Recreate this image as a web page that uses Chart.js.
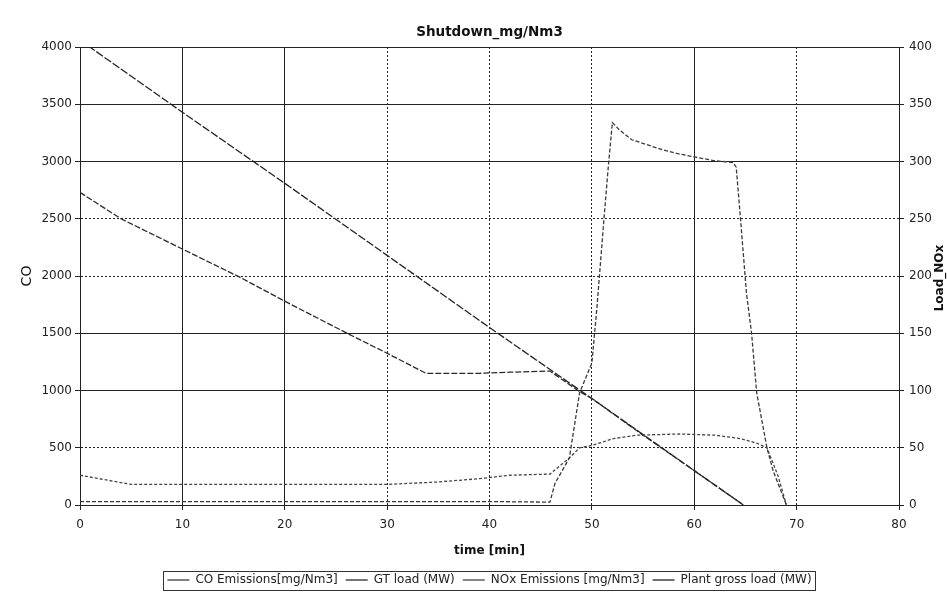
<!DOCTYPE html>
<html>
<head>
<meta charset="utf-8">
<script src="https://cdn.jsdelivr.net/npm/chart.js@4.4.1/dist/chart.umd.min.js"></script>
<style>
html,body{margin:0;padding:0;background:#ffffff;}
#wrap{width:947px;height:596px;}
</style>
</head>
<body>
<div id="wrap"><canvas id="c" width="947" height="596"></canvas></div>
<script>
// ---- texts ----
const chartTitle = 'Shutdown_mg/Nm3';
const xTitle = 'time [min]';
const leftTitle = 'CO';
const rightTitle = 'Load_NOx';
const seriesNames = ['CO Emissions[mg/Nm3]', 'GT load (MW)', 'NOx Emissions [mg/Nm3]', 'Plant gross load (MW)'];

// ---- axis ranges / ticks ----
const xTicks = [0, 10, 20, 30, 40, 50, 60, 70, 80];
const leftTicks = [0, 500, 1000, 1500, 2000, 2500, 3000, 3500, 4000];
const rightTicks = [0, 50, 100, 150, 200, 250, 300, 350, 400];

// ---- series ----
const coTime   = [0, 10, 20, 30, 40, 45.9, 46.4, 47.8, 48.8, 50.0, 50.5, 51.2, 51.6, 52.0, 52.7, 53.9, 57.0, 58.3, 60.0, 61.8, 63.8, 64.1, 64.5, 65.1, 65.6, 66.1, 67.1, 67.7, 69.0];
const coValues = [30, 30, 30, 30, 30, 25, 190, 410, 980, 1240, 1730, 2520, 2950, 3340, 3275, 3190, 3100, 3070, 3040, 3010, 2990, 2950, 2520, 1850, 1500, 980, 500, 300, 0];

const gtTime   = [0, 4, 9.9, 15.6, 20, 26.3, 29.9, 33.8, 39, 42, 45.9, 48.8, 50, 55, 60, 64.8];
const gtValues = [273, 250, 224, 199, 178, 149, 133, 115, 115, 116, 117, 99, 93, 61, 30, 0];

const noxTime   = [0, 5, 10, 20, 30, 34.8, 39, 42, 45.9, 47.8, 48.8, 50.0, 52.1, 54.4, 58.6, 62.0, 64.5, 66.1, 67.1, 68.2, 69.0];
const noxValues = [26, 18, 18, 18, 18, 20, 23, 26, 27, 41, 50, 52, 58, 61, 62, 61, 58, 54, 50, 25, 0];

const plantTime   = [0, 10, 20, 30, 40, 50, 60, 64.8];
const plantValues = [406, 343, 281, 218, 155, 93, 30, 0];

const pairs = (xs, ys) => xs.map((x, i) => ({x: x, y: ys[i]}));

const FAMILY = "'DejaVu Sans', Verdana, sans-serif";
Chart.defaults.font.family = FAMILY;
Chart.defaults.font.size = 12;
Chart.defaults.color = '#222';

const solidX = [10, 20, 60];
const solidY = [1000, 1500, 3000, 3500, 4000];
const plainLabel = v => String(v);

const extras = {
  id: 'extras',
  afterDraw(chart) {
    const ctx = chart.ctx;
    // right axis title reading bottom-to-top
    ctx.save();
    ctx.fillStyle = '#111';
    ctx.font = "bold 12px " + FAMILY;
    ctx.textAlign = 'center';
    ctx.textBaseline = 'middle';
    ctx.translate(940, 278);
    ctx.rotate(-Math.PI / 2);
    ctx.fillText(rightTitle, 0, 0);
    ctx.restore();
    // legend frame
    const hb = chart.legend.legendHitBoxes;
    if (hb && hb.length) {
      const l = Math.min(...hb.map(h => h.left)) - 4;
      const r = Math.max(...hb.map(h => h.left + h.width)) + 4;
      const t = Math.min(...hb.map(h => h.top)) - 3;
      const b = Math.max(...hb.map(h => h.top + h.height)) + 4;
      ctx.save();
      ctx.strokeStyle = '#333';
      ctx.lineWidth = 1;
      ctx.strokeRect(Math.round(l) + 0.5, Math.round(t) + 0.5, Math.round(r - l), Math.round(b - t));
      ctx.restore();
    }
  }
};

new Chart(document.getElementById('c'), {
  type: 'line',
  data: {
    datasets: [
      {label: seriesNames[0], data: pairs(coTime, coValues), yAxisID: 'y', borderColor: '#3a3a3a', backgroundColor: '#3a3a3a', borderWidth: 1.3, borderDash: [4, 2]},
      {label: seriesNames[1], data: pairs(gtTime, gtValues), yAxisID: 'y1', borderColor: '#2a2a2a', backgroundColor: '#2a2a2a', borderWidth: 1.3, borderDash: [6, 2]},
      {label: seriesNames[2], data: pairs(noxTime, noxValues), yAxisID: 'y1', borderColor: '#444', backgroundColor: '#444', borderWidth: 1.3, borderDash: [3, 2]},
      {label: seriesNames[3], data: pairs(plantTime, plantValues), yAxisID: 'y1', borderColor: '#222', backgroundColor: '#222', borderWidth: 1.3, borderDash: [8, 2]}
    ]
  },
  options: {
    responsive: false,
    animation: false,
    devicePixelRatio: 1,
    elements: {point: {radius: 0, hoverRadius: 0}, line: {tension: 0}},
    layout: {padding: 0},
    plugins: {
      title: {display: true, text: chartTitle, fullSize: false, color: '#111', font: {size: 13.5, weight: 'bold'}, padding: {top: 24, bottom: 6.8}},
      legend: {
        position: 'bottom', fullSize: false,
        labels: {usePointStyle: true, pointStyle: 'line', pointStyleWidth: 22, boxHeight: 12, padding: 8, color: '#222', font: {size: 12}}
      },
      tooltip: {enabled: false}
    },
    scales: {
      x: {
        type: 'linear', min: 0, max: 80,
        afterBuildTicks: s => { s.ticks = xTicks.map(v => ({value: v})); },
        afterFit: s => { s.height = 61; },
        ticks: {padding: 8, color: '#222', font: {size: 12}, callback: plainLabel},
        grid: {color: '#222', lineWidth: 1, tickLength: 5},
        border: {display: true, color: '#222', width: 1, dash: c => (c.tick && solidX.includes(c.tick.value)) ? [] : [2, 2]},
        title: {display: true, text: xTitle, color: '#111', font: {size: 12, weight: 'bold'}, padding: {top: 0, bottom: 7.5}}
      },
      y: {
        position: 'left', min: 0, max: 4000,
        afterBuildTicks: s => { s.ticks = leftTicks.map(v => ({value: v})); },
        afterFit: s => { s.width = 80; },
        ticks: {padding: 3, color: '#222', font: {size: 12}, callback: plainLabel},
        grid: {color: '#222', lineWidth: 1, tickLength: 5},
        border: {display: true, color: '#222', width: 1, dash: c => (c.tick && solidY.includes(c.tick.value)) ? [] : [2, 2]},
        title: {display: true, text: leftTitle, color: '#111', font: {size: 14}, padding: {top: 19, bottom: 0}}
      },
      y1: {
        position: 'right', min: 0, max: 400,
        afterBuildTicks: s => { s.ticks = rightTicks.map(v => ({value: v})); },
        afterFit: s => { s.width = 48; },
        ticks: {padding: 5, color: '#222', font: {size: 12}, callback: plainLabel},
        grid: {drawOnChartArea: false, color: '#222', lineWidth: 1, tickLength: 5},
        border: {display: true, color: '#222', width: 1}
      }
    }
  },
  plugins: [extras]
});
</script>
</body>
</html>
